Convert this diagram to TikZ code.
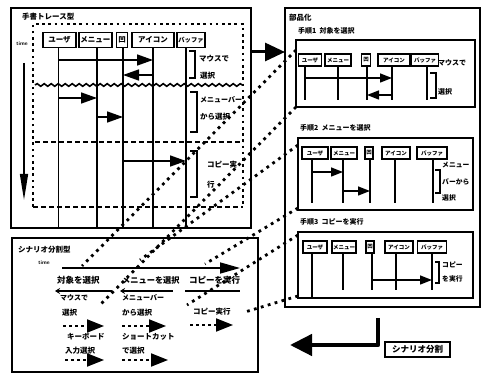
\documentclass[tikz,border=0pt]{standalone}
\usepackage{fontspec}
\newfontfamily\jp{Noto Sans CJK JP}
\usetikzlibrary{arrows.meta,decorations.pathmorphing}
\begin{document}
\begin{tikzpicture}[x=1pt,y=-1pt,
  frm/.style={draw,line width=1.7pt},
  jt/.style={font=\jp\bfseries\fontsize{#1}{#1}\selectfont,inner sep=0pt,anchor=west},
  jt/.default=8,
  lhead/.style={draw,line width=1.5pt,inner sep=0pt,minimum height=15pt,font=\jp\bfseries\fontsize{#1}{#1}\selectfont},
  lhead/.default=7.5,
  rhead/.style={draw,line width=1.3pt,inner sep=0pt,minimum height=12pt,font=\jp\bfseries\fontsize{#1}{#1}\selectfont},
  rhead/.default=5.5,
  life/.style={line width=1.6pt},
  msg/.style={line width=1.6pt,-{Triangle[length=16pt,width=11pt]}},
  smsg/.style={line width=1.4pt,-{Triangle[length=12pt,width=9pt]}},
  brk/.style={line width=1.5pt},
  dotl/.style={line width=2.6pt,dash pattern=on 2.6pt off 3.6pt},
  dashl/.style={line width=2.3pt,dash pattern=on 5pt off 3pt},
  corr/.style={line width=2.8pt,dash pattern=on 2.8pt off 4.4pt},
  dasharr/.style={line width=2pt,dash pattern=on 3pt off 3pt,-{Triangle[length=17pt,width=13pt]}},
  solarr/.style={line width=1.7pt,{Stealth[length=5pt,width=6pt]}-},
]
\useasboundingbox (0,0) rectangle (483,374);
% ================= left top: hand trace
\draw[frm] (11,8) rectangle (251,228);
\node[jt=7.5] (ltT) at (22,17) {手書トレース型};
\draw[dotl] (33,207) -- (33,24) -- (243,24) -- (243,207);
\draw[line width=1.6pt,decorate,decoration={snake,segment length=7pt,amplitude=1.3pt}] (35,85) -- (243,85);
\draw[dashl] (35,142) -- (243,142);
\draw[dashl] (33,207) -- (243,207);
\node[font=\sffamily\bfseries\fontsize{5.5}{5.5}\selectfont,inner sep=0pt] (tm1) at (22,44) {time};
\coordinate (t1s) at (24,63);
\coordinate (t1e) at (24,200);
\draw[line width=1.6pt,-{Triangle[length=26pt,width=8pt]}] (t1s) -- (t1e);
\node[lhead,minimum width=33pt] (hu) at (59.5,40) {ユーザ};
\node[lhead,minimum width=33pt] (hm) at (95.5,40) {メニュー};
\node[lhead,minimum width=11pt] (hw) at (122,40) {凹};
\node[lhead,minimum width=42pt] (hi) at (153,40) {アイコン};
\node[lhead=6.3,minimum width=28pt] (hb) at (191,40) {バッファ};
\coordinate (Lu) at ([xshift=-1pt]hu.south);
\coordinate (Lm) at ([xshift=1.5pt]hm.south);
\coordinate (Lw) at ([xshift=1pt]hw.south);
\coordinate (Li) at (hi.south);
\coordinate (Lb) at ([xshift=-5pt]hb.south);
\foreach \n in {Lu,Lm,Lw,Li,Lb} \draw[life] (\n) -- (\n |- 0,228);
\draw[msg] (Lu |- 0,60) -- (Li |- 0,60);
\draw[msg] (Li |- 0,75) -- (Lw |- 0,75);
\draw[msg] (Lu |- 0,98) -- (Lm |- 0,98);
\draw[msg] (Lm |- 0,117) -- (Lw |- 0,117);
\draw[msg] (Lw |- 0,161) -- (Lb |- 0,161);
\draw[brk] (189,51) -- (195,51) -- (195,78) -- (189,78);
\draw[brk] (190,92) -- (197,92) -- (197,132) -- (190,132);
\draw[brk] (190,151) -- (197,151) -- (197,197) -- (190,197);
\node[jt=7.5] (l1a) at (199,59) {マウスで};
\node[jt=7.5] (l1b) at (200,76) {選択};
\node[jt=7] (l2a) at (200,100) {メニューバー};
\node[jt=7.5] (l2b) at (200,117) {から選択};
\node[jt=7.5] (l3a) at (207,165) {コピー実};
\node[jt=7.5] (l3b) at (207,185) {行};
% arrow to right box
\coordinate (ba1) at (251,52);
\coordinate (ba2) at (285,52);
\draw[line width=3pt,-{Triangle[length=20pt,width=18pt]}] (ba1) -- (ba2);
% ================= bottom left: scenario split
\draw[frm] (12,238) rectangle (258,372);
\node[jt=7.5] (lbT) at (18,250) {シナリオ分割型};
\node[font=\sffamily\bfseries\fontsize{5.5}{5.5}\selectfont,inner sep=0pt] (tm2) at (44,263) {time};
\coordinate (t2s) at (62,268);
\coordinate (t2e) at (240,268);
\draw[line width=1.7pt,-{Triangle[length=20pt,width=11pt]}] (t2s) -- (t2e);
\node[jt=8.5] (s1) at (57,280) {対象を選択};
\node[jt=8.2] (s2) at (122,280) {メニューを選択};
\node[jt=8.5] (s3) at (189,280) {コピーを実行};
\coordinate (s1a) at (55,291); \coordinate (s1b) at (112,291);
\coordinate (s2a) at (120,291); \coordinate (s2b) at (173,291);
\coordinate (s3a) at (185,291); \coordinate (s3b) at (240,291);
\draw[solarr] (s1a) -- (s1b);
\draw[solarr] (s2a) -- (s2b);
\draw[line width=1.7pt] (s3a) -- (s3b);
\node[jt=7] (m1) at (60,298) {マウスで};
\node[jt=7] (m2) at (122,298) {メニューバー};
\node[jt=7.5] (m3) at (62,313) {選択};
\node[jt=7.5] (m4) at (122,313) {から選択};
\node[jt=7.5] (m5) at (193,312) {コピー実行};
\coordinate (d1a) at (63,326); \coordinate (d1b) at (104,326);
\coordinate (d2a) at (122,326); \coordinate (d2b) at (166,326);
\coordinate (d3a) at (190,325); \coordinate (d3b) at (233,325);
\draw[dasharr] (d1a) -- (d1b);
\draw[dasharr] (d2a) -- (d2b);
\draw[dasharr] (d3a) -- (d3b);
\node[jt=7.5] (m6) at (67,337) {キーボード};
\node[jt=7.5] (m7) at (122,337) {ショートカット};
\node[jt=7.5] (m8) at (65,351) {入力選択};
\node[jt=7.5] (m9) at (122,351) {で選択};
\coordinate (d4a) at (65,360); \coordinate (d4b) at (104,360);
\coordinate (d5a) at (122,360); \coordinate (d5b) at (168,360);
\draw[dasharr] (d4a) -- (d4b);
\draw[dasharr] (d5a) -- (d5b);
% ================= right: componentization
\draw[frm] (285,8) rectangle (480,307);
\node[jt=7.5] (rT) at (289,18) {部品化};
\node[jt=7] (st1) at (298,31) {手順1\ \ 対象を選択};
\node[jt=7] (st2) at (300,128) {手順2\ \ メニューを選択};
\node[jt=7] (st3) at (300,222) {手順3\ \ コピーを実行};
% step 1
\draw[frm] (296,40) rectangle (475,107);
\node[rhead,minimum width=23pt] (a1) at (310,60) {ユーザ};
\node[rhead,minimum width=26pt] (a2) at (338,60) {メニュー};
\node[rhead,minimum width=9pt] (a3) at (366,60) {凹};
\node[rhead,minimum width=32pt] (a4) at (394,60) {アイコン};
\node[rhead,minimum width=27pt] (a5) at (425,60) {バッファ};
\coordinate (A1) at ([xshift=-5pt]a1.south);
\coordinate (A2) at (a2.south);
\coordinate (A3) at ([xshift=1pt]a3.south);
\coordinate (A4) at ([xshift=-2pt]a4.south);
\coordinate (A5) at ([xshift=2pt]a5.south);
\foreach \n in {A1,A2,A3,A4,A5} \draw[life] (\n) -- (\n |- 0,100);
\draw[smsg] (A1 |- 0,78) -- (A4 |- 0,78);
\draw[smsg] (A4 |- 0,95) -- (A3 |- 0,95);
\draw[brk] (430,73) -- (436,73) -- (436,98) -- (430,98);
\node[jt=7] (p1a) at (438,63) {マウスで};
\node[jt=7] (p1b) at (438,92) {選択};
% step 2
\draw[frm] (298,138) rectangle (473,210);
\node[rhead,minimum width=26pt] (b1) at (315,153) {ユーザ};
\node[rhead,minimum width=26pt] (b2) at (344,153) {メニュー};
\node[rhead,minimum width=8pt] (b3) at (369,153) {凹};
\node[rhead,minimum width=28pt] (b4) at (396,153) {アイコン};
\node[rhead,minimum width=30pt] (b5) at (432,153) {バッファ};
\coordinate (B1) at ([xshift=-3pt]b1.south);
\coordinate (B2) at ([xshift=-1pt]b2.south);
\coordinate (B3) at ([xshift=1pt]b3.south);
\coordinate (B4) at ([xshift=-1pt]b4.south);
\coordinate (B5) at ([xshift=1pt]b5.south);
\foreach \n in {B1,B2,B3,B4,B5} \draw[life] (\n) -- (\n |- 0,203);
\draw[smsg] (B1 |- 0,172) -- (B2 |- 0,172);
\draw[smsg] (B2 |- 0,191) -- (B3 |- 0,191);
\draw[brk] (435,170) -- (440,170) -- (440,193) -- (435,193);
\node[jt=6.8] (p2a) at (442,165) {メニュー};
\node[jt=6.8] (p2b) at (442,182) {バーから};
\node[jt=6.8] (p2c) at (442,198) {選択};
% step 3
\draw[frm] (298,232) rectangle (473,298);
\node[rhead,minimum width=24pt] (c1) at (315,247) {ユーザ};
\node[rhead,minimum width=24pt] (c2) at (344,247) {メニュー};
\node[rhead,minimum width=8pt] (c3) at (370,247) {凹};
\node[rhead,minimum width=28pt] (c4) at (399,247) {アイコン};
\node[rhead,minimum width=29pt] (c5) at (432,247) {バッファ};
\coordinate (C1) at ([xshift=-3pt]c1.south);
\coordinate (C2) at ([xshift=-1pt]c2.south);
\coordinate (C3) at ([xshift=2pt]c3.south);
\coordinate (C4) at ([xshift=-3pt]c4.south);
\coordinate (C5) at (c5.south);
\draw[life] (C1) -- (C1 |- 0,298);
\foreach \n in {C2,C3,C4,C5} \draw[life] (\n) -- (\n |- 0,290);
\draw[smsg] (C3 |- 0,280) -- (C5 |- 0,280);
\draw[brk] (435,262) -- (439,262) -- (439,283) -- (435,283);
\node[jt=6.8] (p3a) at (442,265) {コピー};
\node[jt=6.8] (p3b) at (442,279) {を実行};
% bottom arrow and label
\coordinate (r1) at (378,318);
\coordinate (r2) at (378,345);
\coordinate (r3) at (290,345);
\draw[line width=4.5pt,line join=round,-{Triangle[length=22pt,width=21pt]}] (r1) -- (r2) -- (r3);
\node[draw,line width=1.6pt,inner sep=0pt,minimum width=65pt,minimum height=15pt,font=\jp\bfseries\fontsize{8.5}{8.5}\selectfont] (sb) at (417.5,349.5) {シナリオ分割};
% ================= correspondence dotted lines
\coordinate (k1a) at (296,50);  \coordinate (k1b) at (82,266);
\coordinate (k2a) at (296,107); \coordinate (k2b) at (100,305);
\coordinate (k3a) at (298,145); \coordinate (k3b) at (140,260);
\coordinate (k4a) at (298,208); \coordinate (k4b) at (205,264);
\coordinate (k5a) at (298,235); \coordinate (k5b) at (187,305);
\coordinate (k6a) at (298,296); \coordinate (k6b) at (245,312);
\foreach \n in {1,...,6} \draw[corr] (k\n a) -- (k\n b);
\end{tikzpicture}
\end{document}
